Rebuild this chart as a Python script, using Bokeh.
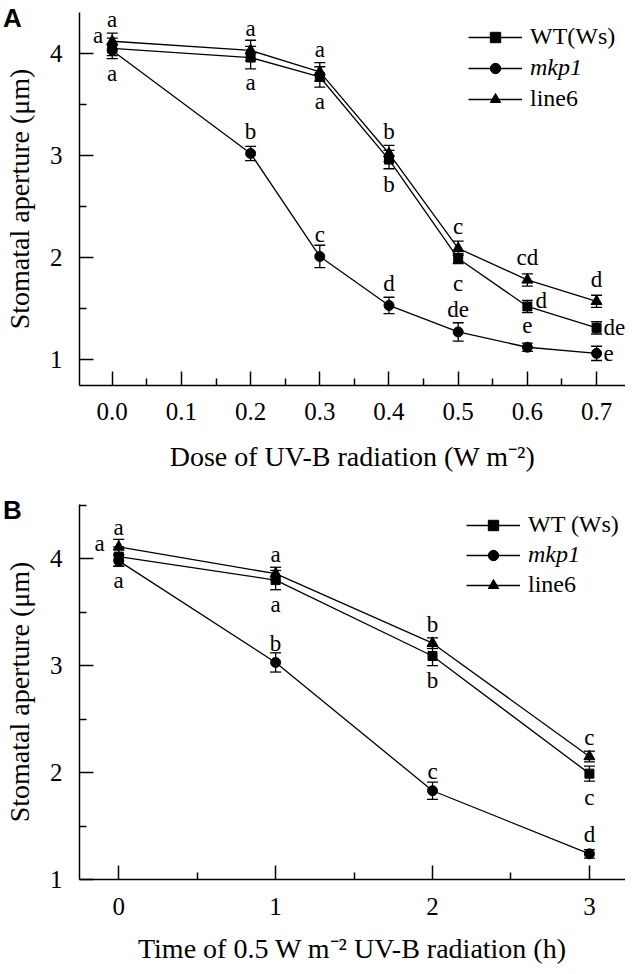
from bokeh.plotting import figure
from bokeh.layouts import column
from bokeh.models import (ColumnDataSource, Whisker, TeeHead, FixedTicker, Legend,
                          LegendItem, LabelSet, NumeralTickFormatter, Div)
from bokeh.embed import file_html
from bokeh.resources import INLINE

# ---------------- data: panel A (dose response) ----------------
dose = [0.0, 0.2, 0.3, 0.4, 0.5, 0.6, 0.7]
a_wt = [4.05, 3.96, 3.77, 2.96, 1.99, 1.52, 1.31]
a_wt_err = [0.10, 0.11, 0.10, 0.09, 0.05, 0.06, 0.06]
a_mkp1 = [4.03, 3.02, 2.01, 1.53, 1.27, 1.12, 1.06]
a_mkp1_err = [0.05, 0.07, 0.11, 0.08, 0.09, 0.04, 0.07]
a_line6 = [4.12, 4.03, 3.82, 3.02, 2.09, 1.78, 1.57]
a_line6_err = [0.08, 0.10, 0.09, 0.08, 0.07, 0.06, 0.06]
a_wt_sig = ["a", "a", "a", "b", "c", "d", "de"]
a_mkp1_sig = ["a", "b", "c", "d", "de", "e", "e"]
a_line6_sig = ["a", "a", "a", "b", "c", "cd", "d"]
a_x_ticks = [0.0, 0.1, 0.2, 0.3, 0.4, 0.5, 0.6, 0.7]
a_y_ticks = [1, 2, 3, 4]

# ---------------- data: panel B (time course) ----------------
time_h = [0, 1, 2, 3]
b_wt = [4.02, 3.80, 3.09, 1.99]
b_wt_err = [0.09, 0.09, 0.09, 0.07]
b_mkp1 = [3.98, 3.03, 1.83, 1.24]
b_mkp1_err = [0.05, 0.09, 0.08, 0.04]
b_line6 = [4.11, 3.86, 3.21, 2.15]
b_line6_err = [0.07, 0.06, 0.05, 0.05]
b_wt_sig = ["a", "a", "b", "c"]
b_mkp1_sig = ["a", "b", "c", "d"]
b_line6_sig = ["a", "a", "b", "c"]
b_x_ticks = [0, 1, 2, 3]
b_y_ticks = [1, 2, 3, 4]

# ---------------- layout of the significance letters ----------------
a_wt_place = ["below", "below", "below", "below", "below", "right_up", "right"]
a_mkp1_place = ["left", "above", "above", "above", "above", "above", "right"]
a_line6_place = ["above"] * 7
b_wt_place = ["below"] * 4
b_mkp1_place = ["left", "above", "above", "above"]
b_line6_place = ["above"] * 4

A_OFFS = {"above": (0, 22, "center"), "below": (0, -25, "center"),
          "left": (-14, 15, "center"), "right": (7, 0, "left"),
          "right_up": (8, 6, "left")}
B_OFFS = {"above": (0, 19, "center"), "below": (0, -24, "center"),
          "left": (-19, 17, "center"), "right": (7, 0, "left")}

SERIF = "Liberation Serif"
FRAME_A = dict(left=71, top=12, height=478, frame_h=373)
FRAME_B = dict(left=71, top=26, height=488, frame_h=380)


def make_panel(xs, series, xr, yr, xticks, xminor, yticks, yminor, xfmt, xlabel,
               dims, offs, legend_pos, tick_std, title_std):
    p = figure(width=625, height=dims["height"], x_range=xr, y_range=yr,
               output_backend="svg", toolbar_location=None,
               min_border_left=dims["left"], min_border_right=0,
               min_border_top=dims["top"],
               min_border_bottom=dims["height"] - dims["top"] - dims["frame_h"])
    p.outline_line_color = None
    p.grid.visible = False
    p.background_fill_color = "white"
    p.border_fill_color = "white"

    for ax in (p.xaxis[0], p.yaxis[0]):
        ax.axis_line_width = 1.5
        ax.axis_line_color = "black"
        ax.major_tick_line_color = "black"
        ax.minor_tick_line_color = "black"
        ax.major_tick_line_width = 1.5
        ax.minor_tick_line_width = 1.5
        ax.major_tick_in = 14
        ax.major_tick_out = 0
        ax.minor_tick_in = 7
        ax.minor_tick_out = 0
        ax.major_label_text_font = SERIF
        ax.major_label_text_font_size = "25px"
        ax.major_label_text_color = "black"
        ax.axis_label_text_font = SERIF
        ax.axis_label_text_font_size = "28px"
        ax.axis_label_text_font_style = "normal"
        ax.axis_label_text_color = "black"

    p.xaxis.ticker = FixedTicker(ticks=xticks, minor_ticks=xminor)
    p.yaxis.ticker = FixedTicker(ticks=yticks, minor_ticks=yminor)
    p.xaxis.formatter = NumeralTickFormatter(format=xfmt)
    p.xaxis.axis_label = xlabel
    p.yaxis.axis_label = "Stomatal aperture (\u03bcm)"
    p.xaxis.major_label_standoff = tick_std[0]
    p.yaxis.major_label_standoff = tick_std[1]
    p.xaxis.axis_label_standoff = title_std[0]
    p.yaxis.axis_label_standoff = title_std[1]

    markers = {"wt": ("square", 9), "mkp1": ("circle", 10), "line6": ("triangle", 11)}
    rend = {}
    letter_rows = {}
    for key, (vals, errs, sig, place, label) in series.items():
        src = ColumnDataSource(dict(
            x=xs, y=vals,
            upper=[v + e for v, e in zip(vals, errs)],
            lower=[v - e for v, e in zip(vals, errs)]))
        p.add_layout(Whisker(source=src, base="x", upper="upper", lower="lower",
                             dimension="height", line_color="black", line_width=1.3,
                             upper_head=TeeHead(size=11, line_width=1.3, line_color="black"),
                             lower_head=TeeHead(size=11, line_width=1.3, line_color="black")))
        lr = p.line("x", "y", source=src, line_color="black", line_width=1.3)
        m, s = markers[key]
        sr = p.scatter("x", "y", source=src, marker=m, size=s,
                       fill_color="black", line_color="black")
        rend[key] = (lr, sr, label)
        for xv, yv, t, pl in zip(xs, vals, sig, place):
            letter_rows.setdefault(pl, dict(x=[], y=[], t=[]))
            letter_rows[pl]["x"].append(xv)
            letter_rows[pl]["y"].append(yv)
            letter_rows[pl]["t"].append(t)

    for pl, rows in letter_rows.items():
        dx, dy, al = offs[pl]
        p.add_layout(LabelSet(source=ColumnDataSource(rows), x="x", y="y", text="t",
                              x_offset=dx, y_offset=dy, text_align=al,
                              text_baseline="middle", text_font=SERIF,
                              text_font_size="23px", text_color="black"))

    # legends (one per entry so that mkp1 can be italic)
    lx, ly0, step = legend_pos
    for i, key in enumerate(["wt", "mkp1", "line6"]):
        lr, sr, label = rend[key]
        leg = Legend(items=[LegendItem(label=label, renderers=[lr, sr])],
                     location=(lx, ly0 - i * step), padding=0, margin=0,
                     border_line_color=None, background_fill_alpha=0,
                     glyph_width=54, glyph_height=26, label_standoff=8,
                     label_text_font=SERIF, label_text_font_size="24px",
                     label_text_color="black",
                     label_text_font_style="italic" if key == "mkp1" else "normal")
        p.add_layout(leg)
    return p


def panel_letter(text, top_px):
    return Div(text=text, styles={
        "position": "absolute", "left": "3px", "top": f"{top_px}px",
        "font-family": "'Liberation Sans', Arial, sans-serif", "font-weight": "bold",
        "font-size": "26px", "line-height": "1", "color": "black", "z-index": "10",
        "margin": "0", "padding": "0"})


pa = make_panel(
    dose,
    {"wt": (a_wt, a_wt_err, a_wt_sig, a_wt_place, "WT(Ws)"),
     "mkp1": (a_mkp1, a_mkp1_err, a_mkp1_sig, a_mkp1_place, "mkp1"),
     "line6": (a_line6, a_line6_err, a_line6_sig, a_line6_place, "line6")},
    (-0.0473, 0.7418), (0.745, 4.402),
    a_x_ticks, [0.05, 0.15, 0.25, 0.35, 0.45, 0.55, 0.65],
    a_y_ticks, [1.5, 2.5, 3.5],
    "0.0", "Dose of UV-B radiation (W m\u207b\u00b2)",
    FRAME_A, A_OFFS, (389, 335, 31), (17, 17), (18, 12))

pb = make_panel(
    time_h,
    {"wt": (b_wt, b_wt_err, b_wt_sig, b_wt_place, "WT (Ws)"),
     "mkp1": (b_mkp1, b_mkp1_err, b_mkp1_sig, b_mkp1_place, "mkp1"),
     "line6": (b_line6, b_line6_err, b_line6_sig, b_line6_place, "line6")},
    (-0.25, 3.23), (1.0, 4.507),
    b_x_ticks, [0.5, 1.5, 2.5],
    b_y_ticks, [1.5, 2.5, 3.5, 4.5],
    "0", "Time of 0.5 W m\u207b\u00b2 UV-B radiation (h)",
    FRAME_B, B_OFFS, (387, 341, 30), (18, 17), (15, 12))

layout = column(pa, pb, panel_letter("A", 5), panel_letter("B", 497), spacing=0)
open("out.html", "w").write(file_html(layout, INLINE))
